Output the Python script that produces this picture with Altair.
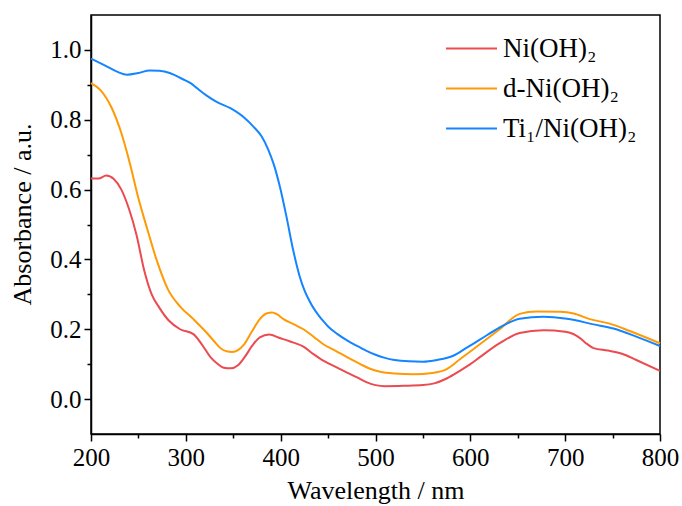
import altair as alt
import pandas as pd

FONT = "Times New Roman, Liberation Serif, serif"

series_names = ["Ni(OH)₂", "d-Ni(OH)₂", "Ti₁/Ni(OH)₂"]
series_colors = ["#EB4B50", "#FF9A05", "#1485FF"]

wl_red = [200, 208, 216, 224, 232, 240, 248, 256, 264, 272, 282, 294, 308, 318, 326, 333, 340, 347,
          355, 362, 370, 378, 388, 399, 410, 424, 435, 445, 458, 470, 480, 491, 500, 510, 530, 550,
          562, 575, 589, 600, 610, 631, 652, 677, 700, 708, 716, 723, 730, 745, 760, 775, 800]
abs_red = [0.632, 0.632, 0.640, 0.630, 0.600, 0.545, 0.470, 0.370, 0.300, 0.262, 0.225, 0.200, 0.186,
           0.152, 0.120, 0.102, 0.090, 0.088, 0.097, 0.120, 0.153, 0.177, 0.185, 0.175, 0.165, 0.150,
           0.128, 0.110, 0.092, 0.076, 0.063, 0.048, 0.040, 0.037, 0.038, 0.040, 0.045, 0.059, 0.081,
           0.100, 0.120, 0.160, 0.189, 0.197, 0.193, 0.187, 0.174, 0.158, 0.146, 0.139, 0.130, 0.112,
           0.081]

wl_orange = [200, 210, 222, 232, 241, 250, 259, 269, 281, 294, 308, 322, 330, 337, 343, 349, 355, 361,
             370, 378, 385, 391, 396, 403, 414, 424, 435, 445, 458, 470, 484, 495, 505, 520, 540, 560,
             575, 589, 610, 631, 652, 670, 695, 709, 726, 747, 768, 800]
abs_orange = [0.905, 0.885, 0.833, 0.762, 0.675, 0.575, 0.490, 0.400, 0.315, 0.265, 0.229, 0.190,
              0.165, 0.145, 0.137, 0.135, 0.140, 0.155, 0.195, 0.229, 0.245, 0.248, 0.243, 0.229,
              0.214, 0.200, 0.178, 0.157, 0.138, 0.120, 0.100, 0.086, 0.078, 0.073, 0.071, 0.075,
              0.086, 0.114, 0.157, 0.200, 0.244, 0.251, 0.250, 0.245, 0.229, 0.216, 0.195, 0.160]

wl_blue = [200, 215, 228, 238, 250, 262, 272, 283, 297, 305, 312, 322, 332, 347, 362, 371, 380, 387,
           393, 399, 406, 413, 420, 425, 430, 435, 440, 445, 450, 460, 470, 480, 490, 500, 510, 520,
           535, 550, 565, 582, 595, 610, 631, 652, 677, 702, 730, 751, 775, 800]
abs_blue = [0.975, 0.955, 0.937, 0.929, 0.934, 0.941, 0.940, 0.934, 0.916, 0.905, 0.890, 0.869, 0.852,
            0.833, 0.805, 0.781, 0.752, 0.714, 0.670, 0.610, 0.524, 0.429, 0.352, 0.312, 0.283, 0.259,
            0.240, 0.223, 0.208, 0.186, 0.168, 0.153, 0.139, 0.127, 0.118, 0.112, 0.108, 0.107, 0.112,
            0.124, 0.145, 0.170, 0.205, 0.230, 0.236, 0.230, 0.214, 0.202, 0.179, 0.152]

x_tick_values = [200, 250, 300, 350, 400, 450, 500, 550, 600, 650, 700, 750, 800]
y_tick_values = [0.0, 0.1, 0.2, 0.3, 0.4, 0.5, 0.6, 0.7, 0.8, 0.9, 1.0]

rows = []
for name, wls, vals in zip(series_names, [wl_red, wl_orange, wl_blue], [abs_red, abs_orange, abs_blue]):
    for w, v in zip(wls, vals):
        rows.append({"wl": w, "abs": v, "sample": name})
df = pd.DataFrame(rows)

x_axis = alt.Axis(
    values=x_tick_values,
    labelExpr="datum.value % 100 == 0 ? datum.label : ''",
    tickSize={"condition": {"test": "datum.value % 100 == 0", "value": 7}, "value": 4},
    title="Wavelength / nm",
    grid=False,
    labelPadding=4,
    titlePadding=7,
    labelFlush=False,
)
y_axis = alt.Axis(
    values=y_tick_values,
    labelExpr="round(datum.value * 10) % 2 == 0 ? format(datum.value, '.1f') : ''",
    tickSize={"condition": {"test": "round(datum.value * 10) % 2 == 0", "value": 7}, "value": 4},
    title="Absorbance / a.u.",
    grid=False,
    labelPadding=3,
    titlePadding=14,
    titleY=199,
)

chart = alt.Chart(df).mark_line(strokeWidth=2, interpolate="monotone").encode(
    x=alt.X("wl:Q", scale=alt.Scale(domain=[200, 800], nice=False, zero=False), axis=x_axis),
    y=alt.Y("abs:Q", scale=alt.Scale(domain=[-0.1, 1.1], nice=False, zero=False), axis=y_axis),
    color=alt.Color(
        "sample:N",
        scale=alt.Scale(domain=series_names, range=series_colors),
        legend=alt.Legend(
            title=None,
            orient="none",
            legendX=354,
            legendY=7,
            symbolType="stroke",
            symbolSize=2600,
            symbolStrokeWidth=2,
            labelFont=FONT,
            labelFontSize=27,
            labelColor="black",
            rowPadding=-9,
            labelOffset=5,
        ),
    ),
    detail="sample:N",
).properties(
    width=569,
    height=419,
    autosize=alt.AutoSizeParams(type="none"),
    padding={"left": 91, "top": 15, "right": 22, "bottom": 72},
).configure_view(
    stroke="black", strokeWidth=1.5
).configure_axis(
    domainColor="black",
    domainWidth=1.5,
    tickColor="black",
    tickWidth=1.5,
    labelFont=FONT,
    labelFontSize=25,
    labelColor="black",
    titleFont=FONT,
    titleFontSize=26,
    titleFontWeight="normal",
    titleColor="black",
)

chart.save("out.html", embed_options={"renderer": "svg", "actions": False})
